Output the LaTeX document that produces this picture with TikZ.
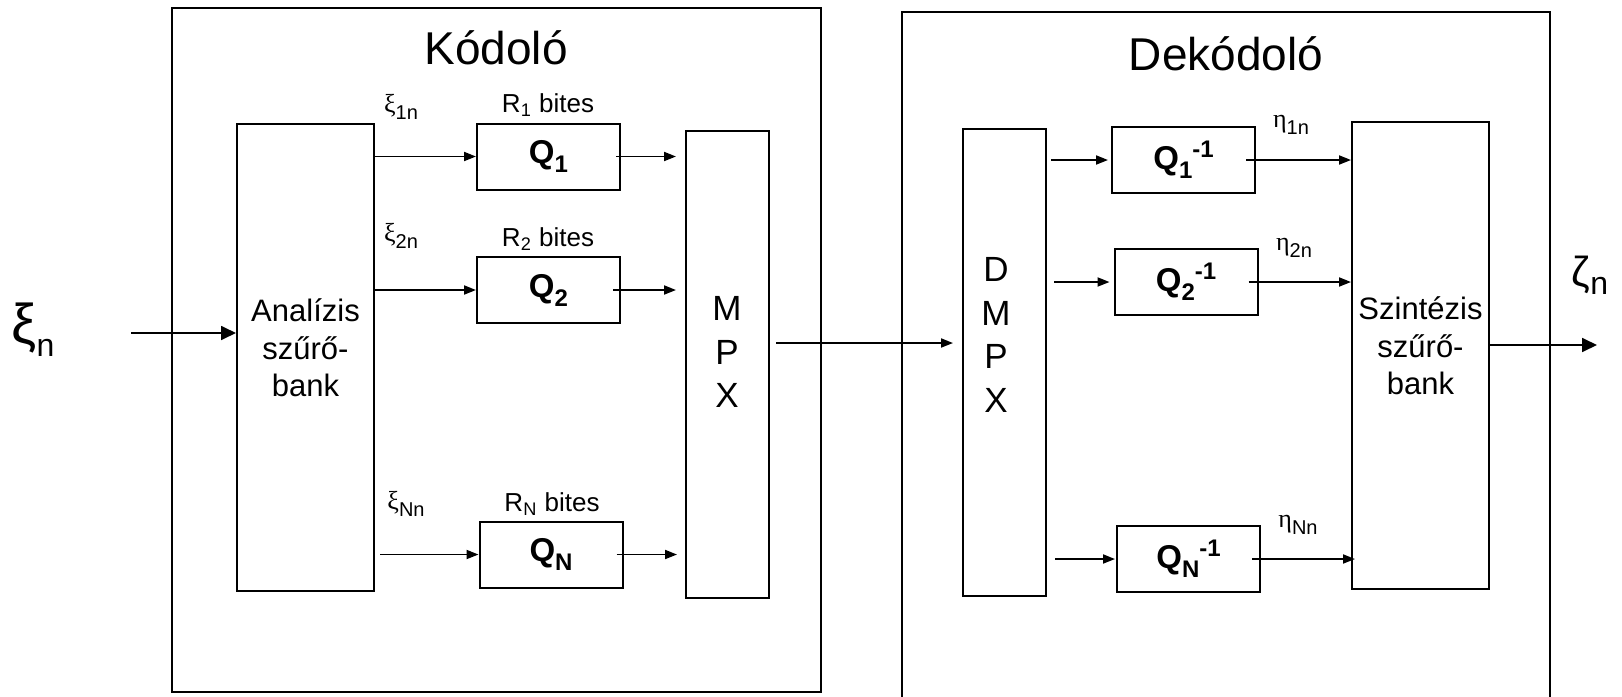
\documentclass[tikz,border=0pt]{standalone}
\usepackage{fontspec}
\setmainfont{Liberation Sans}
\newfontfamily\grkfont{Liberation Serif}
\usetikzlibrary{arrows.meta}
\newcommand{\fs}[2]{\fontsize{#1}{#2}\selectfont}
\newcommand{\sig}[2]{{\grkfont #1}\raisebox{-3.5pt}{\fs{10}{11}#2}}
\newcommand{\qsub}[1]{\raisebox{-4.5pt}{\fs{12}{14}#1}}
\newcommand{\qinv}{\raisebox{6pt}{\fs{12}{14}-1}}

\begin{document}
\begin{tikzpicture}[x=0.5pt,y=-0.5pt,
  blk/.style={draw,line width=1pt,inner sep=0pt},
  qbox/.style={blk,minimum width=71.5pt,minimum height=33pt,font=\fs{16.5}{19}\bfseries},
  tall/.style={blk,minimum height=233.5pt},
  txt/.style={align=center,font=\fs{15.5}{18.75}},
  lettr/.style={align=center,font=\fs{17.5}{21.8}},
  bits/.style={font=\fs{13}{15}},
  sigl/.style={font=\fs{13}{15}},
  title/.style={font=\fs{23}{27}},
  w/.style={-{Triangle[length=6pt,width=4.5pt]},line width=0.9pt},
  wb/.style={-{Triangle[length=7.5pt,width=7pt]},line width=0.9pt}]
\useasboundingbox (0,0) rectangle (1622,696);
% encoder
\node[blk,minimum width=324.75pt,minimum height=342pt] (enc) at (496.25,350) {};
\node[title] (enct) at (496,48) {Kódoló};
\node[tall,minimum width=68.5pt] (ana) at (305.5,357.5) {};
\node[txt] (anat) at (305.5,348) {Analízis\\szűrő-\\bank};
\node[qbox] (q1) at (548.5,156.5) {Q\qsub{1}};
\node[qbox] (q2) at (548.5,290) {Q\qsub{2}};
\node[qbox] (qN) at (551,554.5) {Q\qsub{N}};
\node[bits] (r1) at (548,105) {R\textsubscript{1} bites};
\node[bits] (r2) at (548,239) {R\textsubscript{2} bites};
\node[bits] (rN) at (552,504) {R\textsubscript{N} bites};
\node[sigl] (x1) at (401,107) {\sig{ξ}{1n}};
\node[sigl] (x2) at (401,236) {\sig{ξ}{2n}};
\node[sigl] (xN) at (406,504) {\sig{ξ}{Nn}};
\node[tall,minimum width=41.5pt] (mpx) at (727.5,364) {};
\node[lettr] (mpxt) at (727,352) {M\\P\\X};
% decoder
\node[blk,minimum width=324pt,minimum height=347pt] (dec) at (1226,359) {};
\node[title] (dect) at (1226,54) {Dekódoló};
\node[tall,minimum width=41.5pt] (dmpx) at (1004.5,362) {};
\node[lettr] (dmpxt) at (996,335) {D\\M\\P\\X};
\node[qbox] (qi1) at (1183.5,160) {Q\qsub{1}\qinv};
\node[qbox] (qi2) at (1186,282) {Q\qsub{2}\qinv};
\node[qbox] (qiN) at (1188.5,559) {Q\qsub{N}\qinv};
\node[sigl] (e1) at (1291,125) {\sig{η}{1n}};
\node[sigl] (e2) at (1294,248) {\sig{η}{2n}};
\node[sigl] (eN) at (1298,525) {\sig{η}{Nn}};
\node[tall,minimum width=68.5pt] (sz) at (1420.5,355.5) {};
\node[txt] (szt) at (1420.5,346) {Szintézis\\szűrő-\\bank};
% signals in and out
\node (xin) at (33,330) {\fs{28}{32}ξ\raisebox{-6.5pt}{\fs{16}{18}n}};
\node (zout) at (1590,275) {\fs{21}{24}ζ\raisebox{-4pt}{\fs{16}{18}n}};
\coordinate (inp) at (131,333);
\coordinate (outp) at (1597,345);
\draw[wb] (inp) -- (inp -| ana.west);
\draw[w] (ana.east |- q1.west) -- (q1.west);
\draw[w] (ana.east |- q2.west) -- (q2.west);
\draw[w,shorten <=2.5pt] (ana.east |- qN.west) -- (qN.west);
\draw[w,shorten >=4.5pt] ([xshift=-2.5pt]q1.east) -- (q1.east -| mpx.west);
\draw[w,shorten >=4.5pt] ([xshift=-4pt]q2.east) -- (q2.east -| mpx.west);
\draw[w,shorten >=4pt] ([xshift=-3.5pt]qN.east) -- (qN.east -| mpx.west);
\draw[w,shorten <=3pt,shorten >=4.5pt] (mpx.east |- 0,343) -- (dmpx.west |- 0,343);
\draw[w,shorten <=2pt,shorten >=1.5pt] (dmpx.east |- qi1.west) -- (qi1.west);
\draw[w,shorten <=3.5pt,shorten >=2pt] (dmpx.east |- qi2.west) -- (qi2.west);
\draw[w,shorten <=4pt,shorten >=0.5pt] (dmpx.east |- qiN.west) -- (qiN.west);
\draw[w] ([xshift=-5pt]qi1.east) -- (qi1.east -| sz.west);
\draw[w] ([xshift=-5pt]qi2.east) -- (qi2.east -| sz.west);
\draw[w,shorten >=-2pt] ([xshift=-4.5pt]qiN.east) -- (qiN.east -| sz.west);
\draw[wb] (sz.east |- outp) -- (outp);
\end{tikzpicture}
\end{document}
